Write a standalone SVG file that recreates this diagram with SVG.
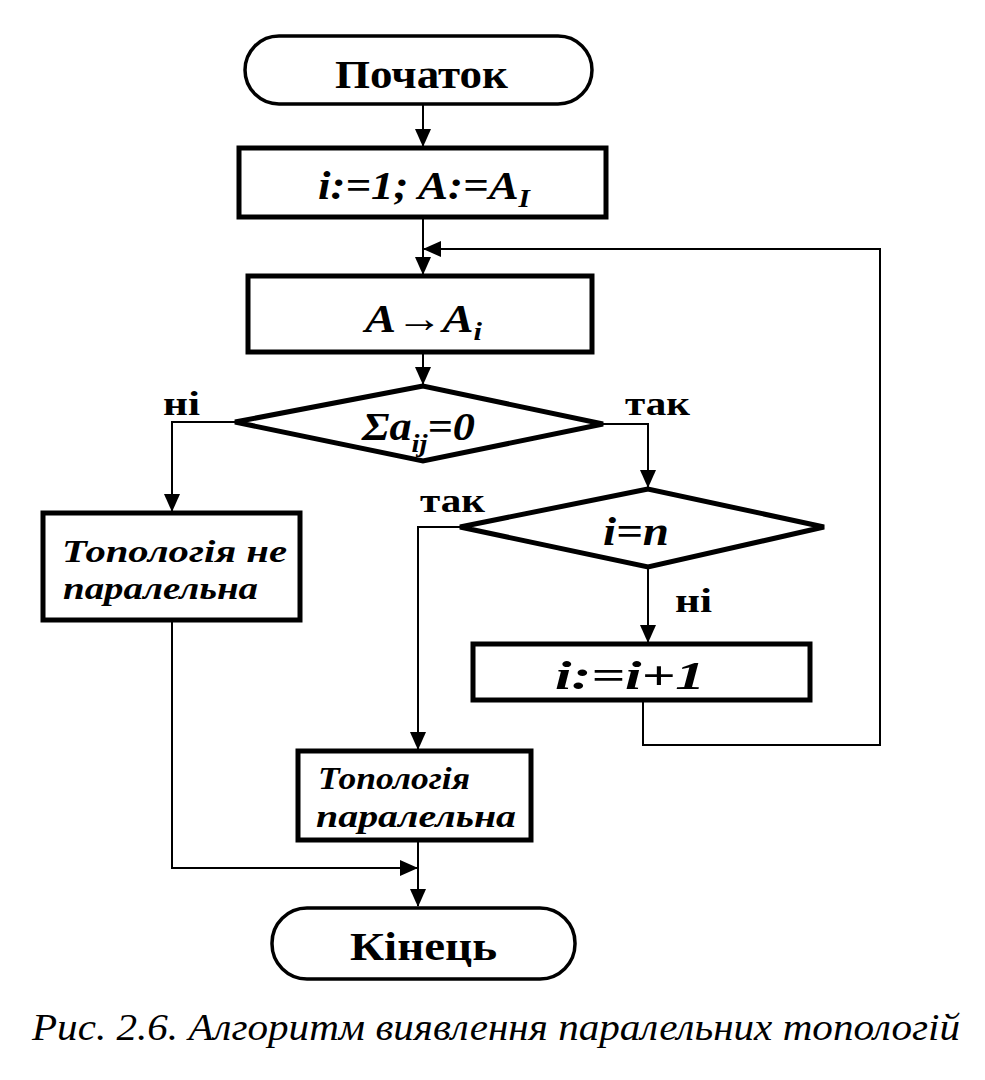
<svg xmlns="http://www.w3.org/2000/svg" width="985" height="1080" viewBox="0 0 985 1080">
<style>
.shape{fill:#fff;stroke:#000;stroke-width:5}
.term{fill:#fff;stroke:#000;stroke-width:3.5}
.ln{fill:none;stroke:#000;stroke-width:2}
.t{fill:#000;font-family:'Liberation Serif',Tinos,'Times New Roman',Times,serif}
.b{font-weight:bold}
.i{font-style:italic}
</style>
<defs>
<marker id="ahb" markerWidth="18" markerHeight="16" refX="17" refY="8" orient="auto" markerUnits="userSpaceOnUse" viewBox="0 0 18 16">
<path d="M0,0 L18,8 L0,16 Z" fill="#000"/>
</marker>
</defs>
<rect width="985" height="1080" fill="#fff"/>
<g id="connectors">
<path class="ln" d="M423,105 V146" marker-end="url(#ahb)"/>
<path class="ln" d="M423,219 V274" marker-end="url(#ahb)"/>
<path class="ln" d="M423,354 V384" marker-end="url(#ahb)"/>
<path class="ln" d="M235,422 H172 V511" marker-end="url(#ahb)"/>
<path class="ln" d="M603,424 H648 V487" marker-end="url(#ahb)"/>
<path class="ln" d="M460,527 H418 V749" marker-end="url(#ahb)"/>
<path class="ln" d="M648,567 V642" marker-end="url(#ahb)"/>
<path class="ln" d="M643,702 V745 H880 V249 H424" marker-end="url(#ahb)"/>
<path class="ln" d="M172,622 V868 H417" marker-end="url(#ahb)"/>
<path class="ln" d="M418,842 V906" marker-end="url(#ahb)"/>
</g>
<g id="start">
<rect class="term" x="245" y="36" width="347" height="68" rx="34"/>
<text class="t b" x="335" y="88" font-size="40" textLength="173" lengthAdjust="spacingAndGlyphs">Початок</text>
</g>
<g id="init">
<rect class="shape" x="239" y="148" width="367" height="69"/>
<text class="t b i" x="318" y="199" font-size="40" textLength="212" lengthAdjust="spacingAndGlyphs">i:=1; A:=A<tspan font-size="26" dy="8">I</tspan></text>
</g>
<g id="assign">
<rect class="shape" x="248" y="276" width="344" height="76"/>
<text class="t b i" x="365" y="332" font-size="40" textLength="117" lengthAdjust="spacingAndGlyphs">A→A<tspan font-size="26" dy="8">i</tspan></text>
</g>
<g id="cond1">
<polygon class="shape" points="423,386 235,422 423,461 603,424"/>
<text class="t b i" x="362" y="440" font-size="40" textLength="113" lengthAdjust="spacingAndGlyphs">Σa<tspan font-size="26" dy="12">ij</tspan><tspan dy="-12">=0</tspan></text>
</g>
<g id="cond2">
<polygon class="shape" points="648,489 460,527 648,567 824,527"/>
<text class="t b i" x="603" y="545" font-size="40" textLength="66" lengthAdjust="spacingAndGlyphs">i=n</text>
</g>
<g id="incr">
<rect class="shape" x="473" y="644" width="337" height="56"/>
<text class="t b i" x="555" y="689" font-size="40" textLength="150" lengthAdjust="spacingAndGlyphs">i:=i+1</text>
</g>
<g id="notpar">
<rect class="shape" x="43" y="513" width="257" height="107"/>
<text class="t b i" x="62" y="562" font-size="31" textLength="225" lengthAdjust="spacingAndGlyphs">Топологія не</text>
<text class="t b i" x="63" y="599" font-size="31" textLength="195" lengthAdjust="spacingAndGlyphs">паралельна</text>
</g>
<g id="par">
<rect class="shape" x="298" y="751" width="233" height="89"/>
<text class="t b i" x="318" y="789" font-size="31" textLength="152" lengthAdjust="spacingAndGlyphs">Топологія</text>
<text class="t b i" x="316" y="827" font-size="31" textLength="200" lengthAdjust="spacingAndGlyphs">паралельна</text>
</g>
<g id="end">
<rect class="term" x="272" y="908" width="303" height="71" rx="35"/>
<text class="t b" x="350" y="960" font-size="40" textLength="147" lengthAdjust="spacingAndGlyphs">Кінець</text>
</g>
<g id="labels">
<text class="t b" x="163" y="415" font-size="34" textLength="37" lengthAdjust="spacingAndGlyphs">ні</text>
<text class="t b" x="625" y="415" font-size="34" textLength="65" lengthAdjust="spacingAndGlyphs">так</text>
<text class="t b" x="420" y="512" font-size="34" textLength="65" lengthAdjust="spacingAndGlyphs">так</text>
<text class="t b" x="675" y="612" font-size="34" textLength="37" lengthAdjust="spacingAndGlyphs">ні</text>
</g>
<text class="t i" x="32" y="1040" font-size="38" textLength="928" lengthAdjust="spacingAndGlyphs">Рис. 2.6. Алгоритм виявлення паралельних топологій</text>
</svg>
